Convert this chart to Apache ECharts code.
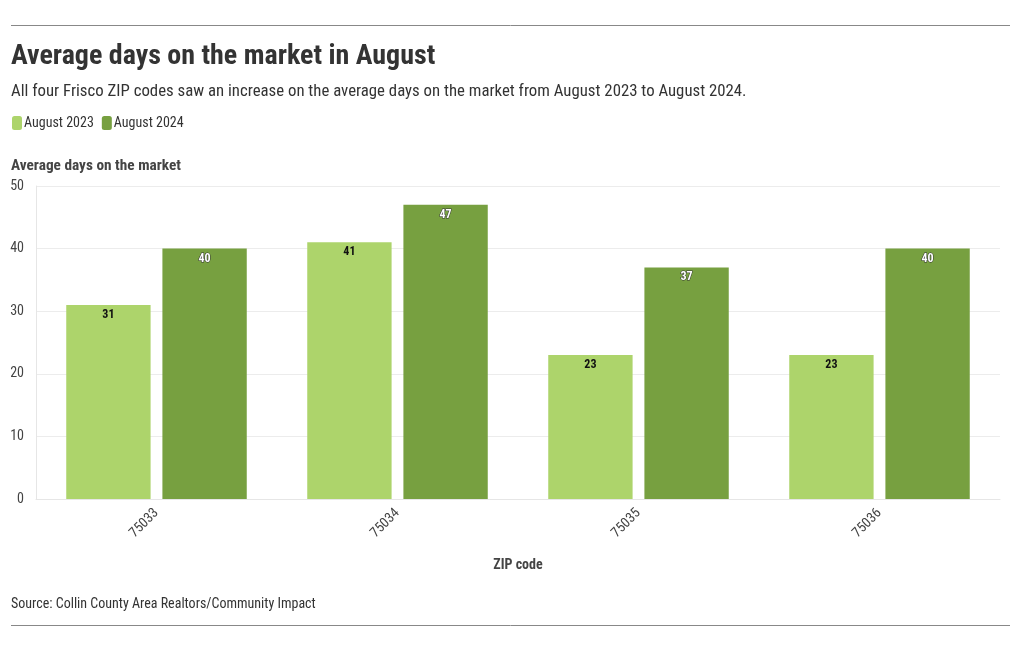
<!DOCTYPE html>
<html><head><meta charset="utf-8">
<script src="https://cdn.jsdelivr.net/npm/echarts@6/dist/echarts.min.js"></script>
<style>html,body{margin:0;padding:0;background:#fff}#c{width:1020px;height:650px}</style>
</head><body><div id="c"></div>
<script>
const categories = ['75033', '75034', '75035', '75036'];
const aug2023 = [31, 41, 23, 23];
const aug2024 = [40, 47, 37, 40];
const yTicks = [0, 10, 20, 30, 40, 50];
const FONT = '"Roboto Condensed", "Liberation Sans Narrow", "DejaVu Sans Condensed", Roboto, sans-serif';
const chart = echarts.init(document.getElementById('c'));
chart.setOption({
  animation: false,
  textStyle: { fontFamily: FONT },
  title: [
    { text: 'Average days on the market in August', left: 11, top: 43, padding: 0, textStyle: { fontFamily: FONT, fontSize: 28, fontWeight: 'bold', color: '#333' } },
    { text: 'All four Frisco ZIP codes saw an increase on the average days on the market from August 2023 to August 2024.', left: 11, top: 83, padding: 0, textStyle: { fontFamily: FONT, fontSize: 16.8, fontWeight: 'normal', color: '#333' } },
    { text: 'Average days on the market', left: 11, top: 159, padding: 0, textStyle: { fontFamily: FONT, fontSize: 15.3, fontWeight: 'bold', color: '#444' } },
    { text: 'Source: Collin County Area Realtors/Community Impact', left: 11, top: 597, padding: 0, textStyle: { fontFamily: FONT, fontSize: 14, fontWeight: 'normal', color: '#333' } }
  ],
  legend: {
    left: 7, top: 111, itemWidth: 10, itemHeight: 14, itemGap: 8,
    icon: 'roundRect',
    textStyle: { fontFamily: FONT, fontSize: 14, color: '#333', padding: [0, 0, 0, -3] },
    data: ['August 2023', 'August 2024']
  },
  graphic: [
    { type: 'line', shape: { x1: 11, y1: 25.5, x2: 1010, y2: 25.5 }, style: { stroke: '#888', lineWidth: 1 } },
    { type: 'line', shape: { x1: 11, y1: 625.5, x2: 1010, y2: 625.5 }, style: { stroke: '#888', lineWidth: 1 } }
  ],
  grid: { left: 36, right: 20, top: 186, bottom: 151, containLabel: false },
  xAxis: {
    type: 'category', data: categories,
    name: 'ZIP code', nameLocation: 'middle', nameGap: 59,
    nameTextStyle: { fontFamily: FONT, fontSize: 14, fontWeight: 'bold', color: '#444' },
    axisLine: { show: true, lineStyle: { color: '#e6e6e6' } },
    axisTick: { show: false },
    axisLabel: { rotate: 45, fontFamily: FONT, fontSize: 14, color: '#444', margin: 12 }
  },
  yAxis: {
    type: 'value', min: yTicks[0], max: yTicks[yTicks.length - 1], interval: 10,
    axisLine: { show: true, lineStyle: { color: '#e6e6e6' } },
    axisTick: { show: false },
    splitLine: { lineStyle: { color: '#ececec' } },
    axisLabel: { fontFamily: FONT, fontSize: 14, color: '#444', margin: 12 }
  },
  series: [
    { name: 'August 2023', type: 'bar', data: aug2023, barWidth: '35%', barGap: '14%',
      itemStyle: { color: '#add46b' },
      label: { show: true, position: 'insideTop', distance: 4, fontFamily: FONT, fontSize: 12, fontWeight: 'bold', color: '#111' } },
    { name: 'August 2024', type: 'bar', data: aug2024, barWidth: '35%',
      itemStyle: { color: '#77a040' },
      label: { show: true, position: 'insideTop', distance: 4, fontFamily: FONT, fontSize: 12, fontWeight: 'bold', color: '#fff', textBorderColor: '#333', textBorderWidth: 1 } }
  ]
});
</script></body></html>
